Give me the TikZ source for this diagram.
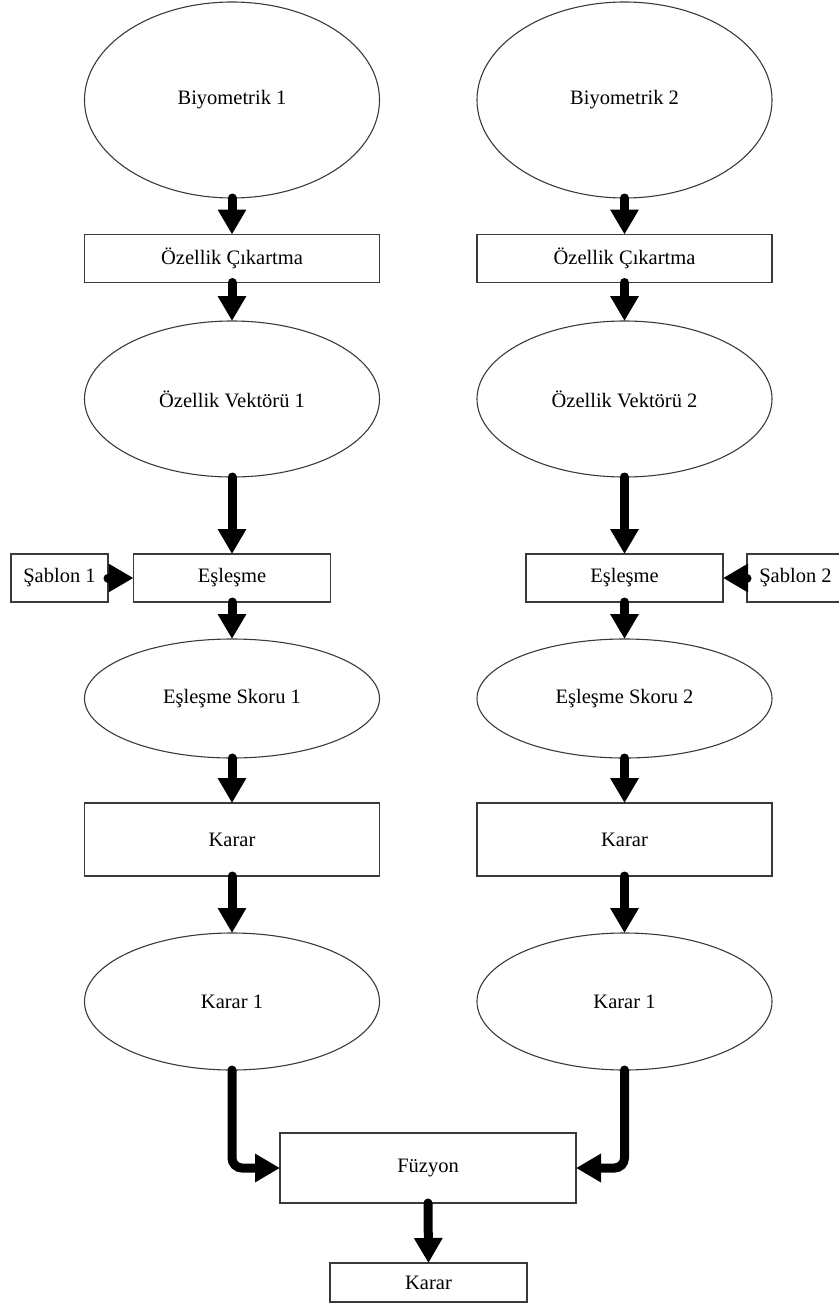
\documentclass[tikz,border=0pt]{standalone}
\usepackage{fontspec}
\setmainfont{Liberation Serif}
\usetikzlibrary{shapes.geometric,arrows.meta}
\definecolor{edge}{HTML}{3A3A3A}
\begin{document}
\begin{tikzpicture}[x=1pt,y=-1pt,
  every node/.style={font=\fontsize{20.5}{24}\selectfont, text=black, inner sep=0pt, outer sep=0pt},
  oval/.style={draw=edge, line width=1.1pt, ellipse, minimum width=295pt},
  rbox/.style={draw=edge, line width=1.1pt, rectangle, minimum width=295pt},
  flow/.style={line width=9pt, line cap=round, black, -{Triangle[length=25pt,width=27pt]}, rounded corners=10pt}
]
\useasboundingbox (0,0) rectangle (838,1306);
% left column
\node[oval, minimum height=196pt] (b1) at (232,100) {Biyometrik 1};
\node[rbox, minimum height=48pt] (oc1) at (232,258.5) {Özellik Çıkartma};
\node[oval, minimum height=156pt] (ov1) at (232,399) {Özellik Vektörü 1};
\node[rbox, minimum width=197pt, minimum height=48pt] (e1) at (232,578) {Eşleşme};
\node[rbox, minimum width=97pt, minimum height=48pt] (s1) at (59.5,578) {Şablon 1};
\node[oval, minimum height=119pt] (es1) at (232,698.5) {Eşleşme Skoru 1};
\node[rbox, minimum height=73pt] (k1) at (232,839.5) {Karar};
\node[oval, minimum height=137pt] (kr1) at (232,1001.5) {Karar 1};
% right column
\node[oval, minimum height=196pt] (b2) at (624.5,100) {Biyometrik 2};
\node[rbox, minimum height=48pt] (oc2) at (624.5,258.5) {Özellik Çıkartma};
\node[oval, minimum height=156pt] (ov2) at (624.5,399) {Özellik Vektörü 2};
\node[rbox, minimum width=197pt, minimum height=48pt] (e2) at (624.5,578) {Eşleşme};
\node[rbox, minimum width=97pt, minimum height=48pt] (s2) at (795.5,578) {Şablon 2};
\node[oval, minimum height=119pt] (es2) at (624.5,698.5) {Eşleşme Skoru 2};
\node[rbox, minimum height=73pt] (k2) at (624.5,839.5) {Karar};
\node[oval, minimum height=137pt] (kr2) at (624.5,1001.5) {Karar 1};
% bottom
\node[rbox, minimum width=296pt, minimum height=70pt] (fz) at (428,1168) {Füzyon};
\node[rbox, minimum width=197pt, minimum height=39pt] (kf) at (428.5,1282.5) {Karar};
% connectors
\draw[flow] (b1.south) -- (oc1.north);
\draw[flow] (oc1.south) -- (ov1.north);
\draw[flow] (ov1.south) -- (e1.north);
\draw[flow] (s1.east) -- (e1.west);
\draw[flow] (e1.south) -- (es1.north);
\draw[flow] (es1.south) -- (k1.north);
\draw[flow] (k1.south) -- (kr1.north);
\draw[flow] (b2.south) -- (oc2.north);
\draw[flow] (oc2.south) -- (ov2.north);
\draw[flow] (ov2.south) -- (e2.north);
\draw[flow] (s2.west) -- (e2.east);
\draw[flow] (e2.south) -- (es2.north);
\draw[flow] (es2.south) -- (k2.north);
\draw[flow] (k2.south) -- (kr2.north);
\draw[flow] (kr1.south) |- (fz.west);
\draw[flow] (kr2.south) |- (fz.east);
\draw[flow] (fz.south) -- (kf.north);
\end{tikzpicture}
\end{document}
